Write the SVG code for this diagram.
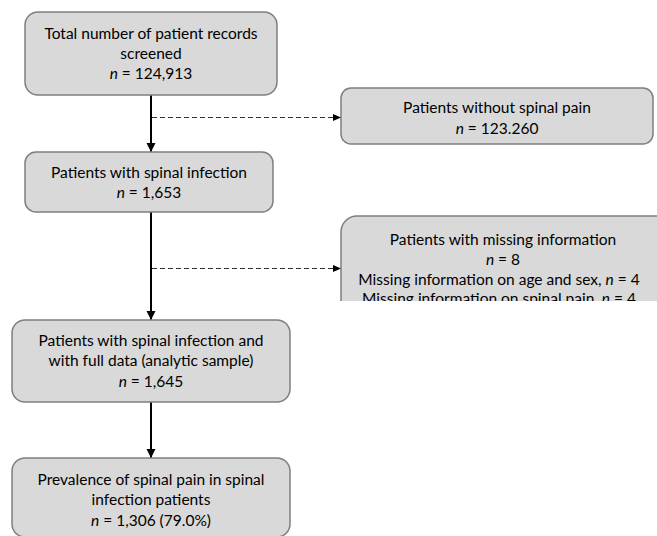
<svg xmlns="http://www.w3.org/2000/svg" width="657" height="536" viewBox="0 0 657 536">
<style>
.box{fill:#d9d9d9;stroke:#7f7f7f;stroke-width:1.5}
.t{font-family:Lato,"Open Sans","Liberation Sans",sans-serif;font-size:15.5px;fill:#000;text-anchor:middle}
.i{font-style:italic}
.solid{stroke:#000;stroke-width:2;fill:none}
.dash{stroke:#333;stroke-width:1.1;stroke-dasharray:5 3;fill:none}
</style>
<defs>
<marker id="ah" markerUnits="userSpaceOnUse" markerWidth="10" markerHeight="10" refX="9" refY="5" orient="auto">
<path d="M0,0.5 L9,5 L0,9.5 z" fill="#000"/>
</marker>
<marker id="ahs" markerUnits="userSpaceOnUse" markerWidth="9" markerHeight="8" refX="8" refY="4" orient="auto">
<path d="M0,0.5 L8,4 L0,7.5 z" fill="#000"/>
</marker>
<clipPath id="clipMiss"><rect x="330" y="205" width="340" height="96"/></clipPath>
</defs>
<rect width="657" height="536" fill="#fff"/>
<g id="connectors">
<line class="solid" x1="151" y1="95" x2="151" y2="152" marker-end="url(#ah)"/>
<line class="solid" x1="151" y1="212" x2="151" y2="320" marker-end="url(#ah)"/>
<line class="solid" x1="151" y1="402" x2="151" y2="458" marker-end="url(#ah)"/>
<line class="dash" x1="152" y1="117.5" x2="341" y2="117.5" marker-end="url(#ahs)"/>
<line class="dash" x1="152" y1="268.5" x2="341" y2="268.5" marker-end="url(#ahs)"/>
</g>
<g id="total">
<rect class="box" x="25" y="12" width="252" height="83" rx="13"/>
<text class="t" x="151" y="39">Total number of patient records</text>
<text class="t" x="151" y="59">screened</text>
<text class="t" x="151" y="79"><tspan class="i">n</tspan> = 124,913</text>
</g>
<g id="spinal-infection">
<rect class="box" x="25" y="152" width="248" height="60" rx="11"/>
<text class="t" x="149" y="178">Patients with spinal infection</text>
<text class="t" x="149" y="198"><tspan class="i">n</tspan> = 1,653</text>
</g>
<g id="without-pain">
<rect class="box" x="341" y="88" width="312" height="56" rx="10"/>
<text class="t" x="497" y="113">Patients without spinal pain</text>
<text class="t" x="497" y="134"><tspan class="i">n</tspan>  = 123.260</text>
</g>
<g id="missing" clip-path="url(#clipMiss)">
<rect class="box" x="341" y="216" width="330" height="110" rx="16"/>
<text class="t" x="503" y="245">Patients with missing information</text>
<text class="t" x="503" y="265"><tspan class="i">n</tspan> = 8</text>
<text class="t" x="499" y="285">Missing information on age and sex, <tspan class="i">n</tspan> = 4</text>
<text class="t" x="499" y="304">Missing information on spinal pain, <tspan class="i">n</tspan> = 4</text>
</g>
<g id="analytic">
<rect class="box" x="12" y="320" width="278" height="82" rx="13"/>
<text class="t" x="151" y="346">Patients with spinal infection and</text>
<text class="t" x="151" y="366">with full data (analytic sample)</text>
<text class="t" x="151" y="387"><tspan class="i">n</tspan> = 1,645</text>
</g>
<g id="prevalence">
<rect class="box" x="12" y="458" width="278" height="79" rx="13"/>
<text class="t" x="151" y="485">Prevalence of spinal pain in spinal</text>
<text class="t" x="151" y="505">infection patients</text>
<text class="t" x="151" y="526"><tspan class="i">n</tspan> = 1,306 (79.0%)</text>
</g>
</svg>
